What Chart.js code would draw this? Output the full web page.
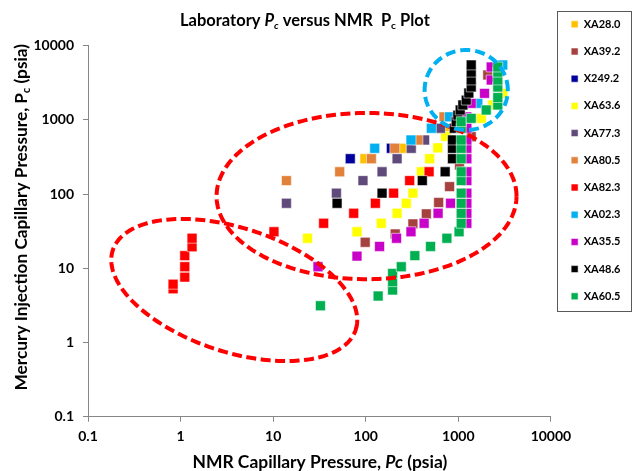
<!DOCTYPE html>
<html>
<head>
<meta charset="utf-8">
<script src="https://cdn.jsdelivr.net/npm/chart.js@4.4.1/dist/chart.umd.min.js"></script>
<style>
  html, body { margin: 0; padding: 0; background: #fff; }
  #wrap { width: 634px; height: 471px; }
</style>
</head>
<body>
<div id="wrap"><canvas id="graf_pc"></canvas></div>
<script>
// amostras e cores (mesma ordem da legenda)
const nomes = ['XA28.0', 'XA39.2', 'X249.2', 'XA63.6', 'XA77.3', 'XA80.5', 'XA82.3', 'XA02.3', 'XA35.5', 'XA48.6', 'XA60.5']
const cores = ['#ffc000', '#a5423f', '#00009c', '#ffff00', '#604a7b', '#e2823a', '#ff0000', '#00b0f0', '#c800c8', '#000000', '#00b050']

// x = Pc NMR, y = Pc laboratorio (psia)
const xa28_x = [98, 252, 740]
const xa28_y = [300, 414, 730]
const xa39_x = [98.6, 208, 323, 451, 613, 804, 1030, 1377, 2080]
const xa39_y = [22.4, 29, 39.7, 54.2, 77, 126, 247, 594, 4030]
const x249_x = [68, 189]
const x249_y = [300, 414]
const xa63_x = [23.5, 80.4, 147, 218, 274, 323, 399, 490, 600, 728, 1767, 2356, 3020]
const xa63_y = [25.4, 31.1, 40.4, 55.1, 75.2, 103, 200, 300, 420, 600, 1050, 1590, 2280]
const xa77_x = [13.9, 48.2, 93.3, 150, 218, 310, 432, 640]
const xa77_y = [75.2, 103, 152, 200, 300, 414, 536, 771]
const xa80_x = [13.9, 52.3, 115, 206, 366, 700]
const xa80_y = [152, 200, 300, 414, 536, 1100]
const xa82_x = [0.83, 0.83, 1.11, 1.11, 1.11, 1.33, 1.33, 10.2, 35.1, 74.1, 127, 200, 298, 483]
const xa82_y = [5.3, 6.1, 7.6, 10.5, 14.8, 19.5, 25.4, 31.1, 40.4, 55.1, 75.2, 103, 152, 200]
const xa02_x = [125, 308, 511, 804, 1624, 3020]
const xa02_y = [414, 536, 771, 1100, 1670, 5500]
const xa35_x = [30.5, 80.4, 141, 215, 308, 427, 604, 824, 1236, 1236, 1236, 1236, 1236, 1236, 1236, 1236, 1236, 1236, 1236, 1377, 1918, 2263, 2263]
const xa35_y = [10.5, 14.6, 19.7, 25.4, 31.1, 40.4, 55.1, 75.2, 40.4, 55.1, 75.2, 103, 152, 200, 300, 414, 536, 771, 1100, 1670, 2280, 3450, 5160]
const xa48_x = [49, 150, 408, 720, 865, 865, 865, 905, 948, 988, 1047, 1119, 1217, 1298, 1377, 1377, 1377, 1377]
const xa48_y = [75.2, 103, 152, 200, 300, 414, 536, 771, 946, 1160, 1360, 1590, 1850, 2300, 2780, 3450, 4400, 5500]
const xa60_x = [32.4, 136, 195, 195, 195, 242, 339, 501, 752, 1018, 1074, 1074, 1074, 1074, 1074, 1074, 1074, 1074, 1074, 1074, 1074, 1377, 2000, 2668, 2668, 2668, 2668, 2668, 2668]
const xa60_y = [3.13, 4.23, 5.1, 6.6, 8.5, 10.5, 14.8, 19.7, 25.4, 31.1, 40.4, 55.1, 75.2, 103, 152, 200, 300, 414, 536, 771, 946, 1050, 1360, 1590, 2000, 2780, 3450, 4400, 5160]

const series_x = [xa28_x, xa39_x, x249_x, xa63_x, xa77_x, xa80_x, xa82_x, xa02_x, xa35_x, xa48_x, xa60_x]
const series_y = [xa28_y, xa39_y, x249_y, xa63_y, xa77_y, xa80_y, xa82_y, xa02_y, xa35_y, xa48_y, xa60_y]

const ticks_x = [0.1, 1, 10, 100, 1000, 10000]
const ticks_y = [0.1, 1, 10, 100, 1000, 10000]

// elipses tracejadas: centro, fim de um semi-eixo, fim do outro (em valores)
const elipses = [
  { centro: [102, 94], eixoA: [4250, 94], eixoB: [102, 1240], cor: '#ff0000', traco: [10, 4.5] },
  { centro: [3.8, 5.1], eixoA: [78, 1.49], eixoB: [6.1, 31.8], cor: '#ff0000', traco: [10, 4.5] },
  { centro: [1216, 2530], eixoA: [3420, 2530], eixoB: [1216, 8750], cor: '#00b0f0', traco: [10, 5] }
]

const fonte = 'Lato, "Open Sans", sans-serif'

// texto com partes em italico / subscrito, ajustado a uma largura
function textoRico(ctx, partes, cx, cy, largura, girar) {
  const f = (p, s) => (p.it ? 'italic ' : '') + 'bold ' + (p.sub ? s * 0.62 : s) + 'px ' + fonte
  let w = 0
  partes.forEach(p => { ctx.font = f(p, 100); w += ctx.measureText(p.t).width })
  const s = 100 * largura / w
  ctx.save()
  ctx.translate(cx, cy)
  if (girar) ctx.rotate(-Math.PI / 2)
  ctx.fillStyle = '#000'
  ctx.textBaseline = 'alphabetic'
  let x = -largura / 2
  partes.forEach(p => {
    ctx.font = f(p, s)
    ctx.fillText(p.t, x, s * 0.36 + (p.sub ? s * 0.18 : 0))
    x += ctx.measureText(p.t).width
  })
  ctx.restore()
}

const titulos = {
  id: 'titulos',
  afterDraw(chart) {
    const ctx = chart.ctx
    textoRico(ctx, [
      { t: 'Laboratory ' }, { t: 'P', it: true }, { t: 'c', it: true, sub: true },
      { t: ' versus NMR  P' }, { t: 'c', sub: true }, { t: ' Plot' }
    ], 305, 20, 250)
    textoRico(ctx, [
      { t: 'NMR Capillary Pressure, ' }, { t: 'Pc', it: true }, { t: ' (psia)' }
    ], 320, 462, 255)
    textoRico(ctx, [
      { t: 'Mercury Injection Capillary Pressure, P' }, { t: 'c', sub: true }, { t: ' (psia)' }
    ], 21, 217, 347, true)

    // moldura da legenda
    const leg = chart.legend
    const pad = leg.options.labels.padding
    const x0 = leg.left + pad - 13.7
    const y0 = leg.top + pad + 5.5
    ctx.save()
    ctx.strokeStyle = '#595959'
    ctx.lineWidth = 1
    ctx.strokeRect(Math.round(x0) + 0.5, Math.round(y0 - 13.6) + 0.5, 74, Math.round(10 * 27.2 + 27.6))
    ctx.restore()
  }
}

const desenhaElipses = {
  id: 'elipses',
  afterDatasetsDraw(chart) {
    const { ctx, scales: { x, y } } = chart
    elipses.forEach(e => {
      const c = [x.getPixelForValue(e.centro[0]), y.getPixelForValue(e.centro[1])]
      const a = [x.getPixelForValue(e.eixoA[0]) - c[0], y.getPixelForValue(e.eixoA[1]) - c[1]]
      const b = [x.getPixelForValue(e.eixoB[0]) - c[0], y.getPixelForValue(e.eixoB[1]) - c[1]]
      ctx.save()
      ctx.beginPath()
      for (let i = 0; i <= 240; i++) {
        const t = i / 240 * Math.PI * 2
        const px = c[0] + Math.cos(t) * a[0] + Math.sin(t) * b[0]
        const py = c[1] + Math.cos(t) * a[1] + Math.sin(t) * b[1]
        if (i == 0) ctx.moveTo(px, py)
        else ctx.lineTo(px, py)
      }
      ctx.lineWidth = 4
      ctx.setLineDash(e.traco)
      ctx.strokeStyle = e.cor
      ctx.stroke()
      ctx.restore()
    })
  }
}

// empurra a legenda um pouco para a direita
const moveLegenda = {
  id: 'moveLegenda',
  afterLayout(chart) {
    chart.legend.left += 4
    chart.legend.right += 4
  }
}

const datasets = nomes.map((nome, i) => ({
  label: nome,
  data: series_x[i].map((v, k) => ({ x: v, y: series_y[i][k] })),
  backgroundColor: cores[i],
  borderColor: 'rgba(255,255,255,0.55)',
  borderWidth: 1,
  pointStyle: 'rect',
  pointRadius: 7,
  pointHoverRadius: 7,
  order: nomes.length - i
}))

const eixo = (ticks) => ({
  type: 'logarithmic',
  min: 0.1,
  max: 10000,
  afterBuildTicks: s => { s.ticks = ticks.map(v => ({ value: v })) },
  ticks: {
    color: '#000',
    font: { family: fonte, size: 14, weight: 'bold' },
    callback: v => v < 1 ? '0.1' : String(v)
  },
  grid: { drawOnChartArea: false, drawTicks: true, tickLength: 5, color: '#868686' },
  border: { color: '#868686', width: 1 }
})

const escala_x = eixo(ticks_x)
escala_x.ticks.padding = 6.6
escala_x.ticks.maxRotation = 0
escala_x.afterFit = s => { s.height = 54.3 }
const escala_y = eixo(ticks_y)
escala_y.ticks.padding = 9
escala_y.afterFit = s => { s.width = 88 }

let graf = new Chart(document.getElementById('graf_pc'), {
  type: 'scatter',
  data: { datasets: datasets },
  options: {
    responsive: true,
    maintainAspectRatio: false,
    animation: false,
    layout: { padding: { left: 0, right: 7.6, top: 2.6, bottom: 0 } },
    scales: { x: escala_x, y: escala_y },
    plugins: {
      title: { display: true, text: '', font: { size: 12 }, padding: { top: 28.7, bottom: 0 } },
      tooltip: { enabled: false },
      legend: {
        position: 'right',
        align: 'start',
        labels: {
          color: '#000',
          font: { family: fonte, size: 11, weight: 'bold' },
          boxWidth: 7,
          boxHeight: 7,
          padding: 16.2,
          sort: (a, b) => a.datasetIndex - b.datasetIndex
        }
      }
    }
  },
  plugins: [desenhaElipses, titulos, moveLegenda]
})
</script>
</body>
</html>
